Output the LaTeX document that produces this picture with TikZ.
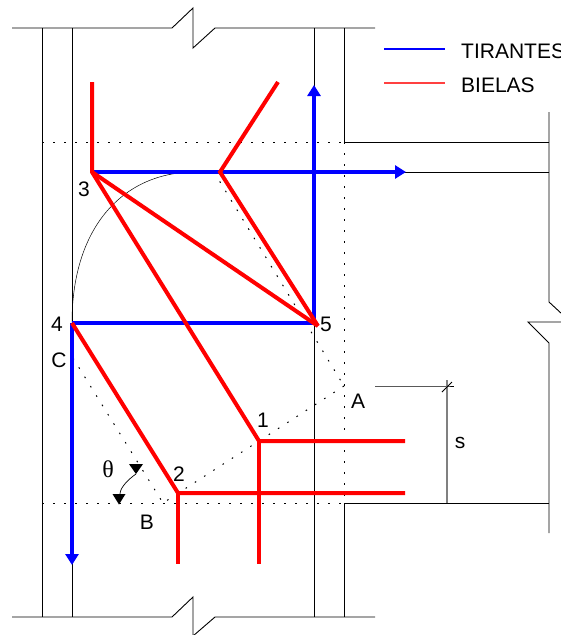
\documentclass[tikz,border=0pt]{standalone}
\usepackage{fontspec}
\setmainfont{Liberation Sans}
\newfontfamily\thetafont{Liberation Serif}
\usetikzlibrary{arrows.meta}
\begin{document}
\begin{tikzpicture}[x=1pt, y=-1pt,
    wall/.style={draw=black, line width=0.9pt},
    guide/.style={draw=black, line width=1pt, dash pattern=on 1.6pt off 9.4pt},
    tie/.style={draw=blue, line width=4pt, -{Triangle[width=13pt,length=11pt]}},
    strut/.style={draw=red, line width=4pt, miter limit=20},
    lbl/.style={font=\fontsize{21}{21}\selectfont, inner sep=0pt}
]
    \useasboundingbox (0,0) rectangle (561,635);

    % Truss points
    \coordinate (p1) at (259,441);
    \coordinate (p2) at (178,493);
    \coordinate (p3) at (92,172);
    \coordinate (p4) at (72,323);
    \coordinate (p5) at (318,326);
    \coordinate (pk) at (220,172);
    \coordinate (pa) at (344,386);
    \coordinate (pb) at (163,503);
    \coordinate (pc) at (73,358);

    % Slab edges with break marks
    \draw[wall] (12,28) -- (172,28) -- (193,8) -- (193,48) -- (215,28) -- (375,28);
    \draw[wall] (12,617) -- (172,617) -- (193,597) -- (193,636) -- (215,617) -- (375,617);

    % Columns
    \draw[wall] (42,28) -- (42,617);
    \draw[wall] (72,28) -- (72,617);
    \draw[wall] (314,28) -- (314,617);
    \draw[wall] (344,28) -- (344,142);
    \draw[wall] (344,503) -- (344,617);

    % Beam
    \draw[wall] (344,142) -- (549,142);
    \draw[wall] (400,172) -- (549,172);
    \draw[wall] (344,503) -- (549,503);
    \draw[wall] (549,112) -- (549,302) -- (562,314);
    \draw[wall] (562,322) -- (528,322) -- (549,343) -- (549,533);

    % Dotted guides
    \draw[guide] (42,142) -- (344,142);
    \draw[guide] (42,503) -- (344,503);
    \draw[guide] (344,142) -- (344,503);
    \draw[guide] (pk) ++(-6,0) -- (pa);
    \draw[guide] (pa) -- (pb);
    \draw[guide] (pc) -- (pb);

    % Curved bar
    \draw[black, line width=0.5pt] (p4) .. controls (72,225) and (125,172) .. (195,172);

    % Angle mark
    \coordinate (t1) at (136,474);
    \coordinate (t2) at (120,494);
    \draw[black, line width=0.7pt] (t1) .. controls (130,478) and (120,487) .. (t2);
    \fill[black] (129,464) -- (143,464) -- (t1) -- cycle;
    \fill[black] (112.5,494) -- (125.5,494) -- (119,504.5) -- cycle;

    % Dimension s
    \coordinate (s1) at (447,386);
    \coordinate (s2) at (447,503);
    \draw[wall] (375,386) -- (s1) -- (454,386);
    \draw[black!50, line width=1.7pt] (447,380) -- (s2);
    \draw[wall] (442,392) -- (452,382);

    % Tension ties
    \coordinate (e1) at (72,565);
    \coordinate (e2) at (314,85);
    \coordinate (e3) at (406,172);
    \draw[tie] (p4) -- (e1);
    \draw[tie] (314,323) -- (e2);
    \draw[tie] (p3) -- (e3);
    \draw[tie, -] (p4) -- (314,323);

    % Compression struts
    \draw[strut] (92,82) -- (p3) -- (p1) -- (405,441);
    \draw[strut] (p1) -- (259,564);
    \draw[strut] (p4) -- (p2) -- (405,493);
    \draw[strut] (p2) -- (178,564);
    \draw[strut] (p3) -- (p5);
    \draw[strut] (278,82) -- (pk) -- (p5);

    % Legend
    \draw[blue, line width=1.3pt] (384,49) -- (445,49);
    \draw[red!75, line width=1.3pt] (384,83) -- (445,83);
    \node[lbl, anchor=west] (tirantes) at (461,51) {TIRANTES};
    \node[lbl, anchor=west] (bielas) at (461,85) {BIELAS};

    % Labels
    \node[lbl] (l1) at (263,420) {1};
    \node[lbl] (l2) at (179,474) {2};
    \node[lbl] (l3) at (84,189) {3};
    \node[lbl] (l4) at (57,324) {4};
    \node[lbl] (l5) at (326,324) {5};
    \node[lbl] (la) at (358,401) {A};
    \node[lbl] (lb) at (147,522) {B};
    \node[lbl] (lc) at (59,360) {C};
    \node[lbl] (ls) at (460,443) {s};
    \node[lbl, font=\fontsize{24}{24}\selectfont] (ltheta) at (108,469) {\thetafont θ};
\end{tikzpicture}
\end{document}
